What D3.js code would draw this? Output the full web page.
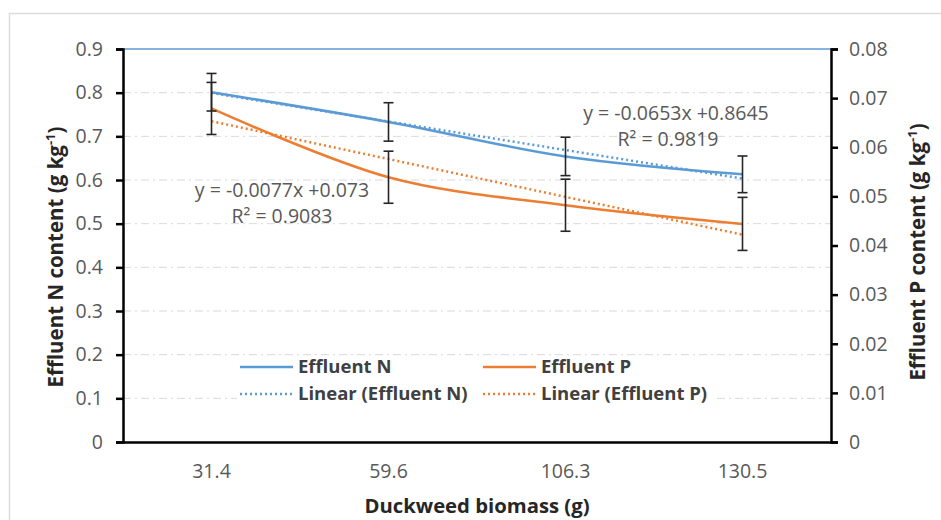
<!DOCTYPE html>
<html>
<head>
<meta charset="utf-8">
<script src="https://cdn.jsdelivr.net/npm/d3@7"></script>
<style>
  body { margin: 0; background: #fff; }
  text { font-family: "Open Sans", "Noto Sans", sans-serif; }
</style>
</head>
<body>
<div id="chart"></div>
<script>
var w = 941;
var h = 520;

// data
var biomass = ["31.4", "59.6", "106.3", "130.5"];
var effluentN = [0.801, 0.733, 0.654, 0.613];
var errN = [0.043, 0.044, 0.044, 0.042];
var effluentP = [0.0679, 0.0539, 0.0482, 0.0444];
var errP = [0.0053, 0.0053, 0.0053, 0.0054];
var trendN = { slope: -0.0653, intercept: 0.8645, label: "y = -0.0653x +0.8645", r2: "R² = 0.9819" };
var trendP = { slope: -0.0077, intercept: 0.073, label: "y = -0.0077x +0.073", r2: "R² = 0.9083" };
var leftTicks = [0, 0.1, 0.2, 0.3, 0.4, 0.5, 0.6, 0.7, 0.8, 0.9];
var rightTicks = [0, 0.01, 0.02, 0.03, 0.04, 0.05, 0.06, 0.07, 0.08];

var blue = "#5b9bd5";
var orange = "#ed7d31";
var tickGray = "#595959";

var margin = { left: 123, right: 110, top: 49, bottom: 78 };
var plotW = w - margin.left - margin.right;
var plotH = h - margin.top - margin.bottom;

var svg = d3.select("#chart").append("svg")
    .attr("width", w)
    .attr("height", h);

// outer frame
svg.append("rect")
    .attr("x", 9.5).attr("y", 13.5)
    .attr("width", w).attr("height", h)
    .attr("fill", "none")
    .attr("stroke", "#dcdcdc")
    .attr("stroke-width", 1.5);

var g = svg.append("g")
    .attr("transform", "translate(" + margin.left + "," + margin.top + ")");

var x = d3.scaleBand().domain(biomass).range([0, plotW]);
var yL = d3.scaleLinear().domain([0, 0.9]).range([plotH, 0]);
var yR = d3.scaleLinear().domain([0, 0.08]).range([plotH, 0]);
var cx = function (i) { return x(biomass[i]) + x.bandwidth() / 2; };

// gridlines (dash-dot)
g.append("g").selectAll("line")
    .data(leftTicks.filter(function (d) { return d > 0 && d < 0.9; }))
    .enter().append("line")
    .attr("x1", 0).attr("x2", plotW)
    .attr("y1", function (d) { return yL(d); })
    .attr("y2", function (d) { return yL(d); })
    .attr("stroke", "#d9d9d9")
    .attr("stroke-width", 1)
    .attr("stroke-dasharray", "8,4,2,4");

// blue top border
g.append("line")
    .attr("x1", 0).attr("x2", plotW)
    .attr("y1", yL(0.9)).attr("y2", yL(0.9))
    .attr("stroke", blue).attr("stroke-width", 1.5);

// axes
var leftAxis = d3.axisLeft(yL).tickValues(leftTicks).tickSize(7).tickPadding(13)
    .tickFormat(function (d) { return d === 0 ? "0" : d3.format(".1f")(d); });
var rightAxis = d3.axisRight(yR).tickValues(rightTicks).tickSize(7).tickPadding(11)
    .tickFormat(function (d) { return d === 0 ? "0" : d3.format(".2f")(d); });
var bottomAxis = d3.axisBottom(x).tickSize(0).tickPadding(22);

function styleAxis(sel) {
    sel.select(".domain").attr("stroke", "#000").attr("stroke-width", 2.5);
    sel.selectAll(".tick line").attr("stroke", "#000").attr("stroke-width", 2.5);
    sel.selectAll(".tick text")
        .attr("fill", tickGray)
        .style("font-size", "19.5px")
        .style("font-family", "'Open Sans', sans-serif");
}

g.append("g").call(leftAxis).call(styleAxis);
g.append("g").attr("transform", "translate(" + plotW + ",0)").call(rightAxis).call(styleAxis);
g.append("g").attr("transform", "translate(0," + plotH + ")").call(bottomAxis).call(styleAxis);

// trendlines (dotted)
function trendPts(t) {
    return [0, 1, 2, 3].map(function (i) { return [i, t.slope * (i + 1) + t.intercept]; });
}
g.append("path")
    .datum(trendPts(trendN))
    .attr("fill", "none").attr("stroke", blue).attr("stroke-width", 2.5)
    .attr("stroke-dasharray", "2,3")
    .attr("d", d3.line().x(function (d) { return cx(d[0]); }).y(function (d) { return yL(d[1]); }));
g.append("path")
    .datum(trendPts(trendP))
    .attr("fill", "none").attr("stroke", orange).attr("stroke-width", 2.5)
    .attr("stroke-dasharray", "2,3")
    .attr("d", d3.line().x(function (d) { return cx(d[0]); }).y(function (d) { return yR(d[1]); }));

// data lines (smoothed)
g.append("path")
    .datum(effluentN)
    .attr("fill", "none").attr("stroke", blue).attr("stroke-width", 2.5)
    .attr("d", d3.line().curve(d3.curveCatmullRom)
        .x(function (d, i) { return cx(i); }).y(function (d) { return yL(d); }));
g.append("path")
    .datum(effluentP)
    .attr("fill", "none").attr("stroke", orange).attr("stroke-width", 2.5)
    .attr("d", d3.line().curve(d3.curveCatmullRom)
        .x(function (d, i) { return cx(i); }).y(function (d) { return yR(d); }));

// error bars
function errorBars(vals, errs, scale) {
    var eb = g.append("g").selectAll("g").data(vals).enter().append("g")
        .attr("stroke", "#262626").attr("stroke-width", 1.6);
    eb.append("line")
        .attr("x1", function (d, i) { return cx(i); }).attr("x2", function (d, i) { return cx(i); })
        .attr("y1", function (d, i) { return scale(d + errs[i]); })
        .attr("y2", function (d, i) { return scale(d - errs[i]); });
    [1, -1].forEach(function (s) {
        eb.append("line")
            .attr("x1", function (d, i) { return cx(i) - 5; }).attr("x2", function (d, i) { return cx(i) + 5; })
            .attr("y1", function (d, i) { return scale(d + s * errs[i]); })
            .attr("y2", function (d, i) { return scale(d + s * errs[i]); });
    });
}
errorBars(effluentN, errN, yL);
errorBars(effluentP, errP, yR);

// equations
function eq(t, ex, ey, r2dx) {
    var txt = g.append("text")
        .attr("fill", tickGray)
        .style("font-size", "19.5px")
        .attr("text-anchor", "middle");
    txt.append("tspan").attr("x", ex).attr("y", ey).text(t.label);
    txt.append("tspan").attr("x", ex + r2dx).attr("y", ey + 26).text(t.r2);
}
eq(trendP, 282 - margin.left, 197 - margin.top, 0);
eq(trendN, 676 - margin.left, 120 - margin.top, -8);

// legend
var legend = g.append("g").attr("transform", "translate(" + (237 - margin.left) + "," + (356 - margin.top) + ")");
legend.append("rect").attr("width", 480).attr("height", 48).attr("fill", "#fff");
var legendItems = [
    { name: "Effluent N", color: blue, dash: null, col: 0, row: 0 },
    { name: "Effluent P", color: orange, dash: null, col: 1, row: 0 },
    { name: "Linear (Effluent N)", color: blue, dash: "2,3", col: 0, row: 1 },
    { name: "Linear (Effluent P)", color: orange, dash: "2,3", col: 1, row: 1 }
];
var li = legend.selectAll(".li").data(legendItems).enter().append("g")
    .attr("class", "li")
    .attr("transform", function (d) { return "translate(" + (3 + d.col * 243) + "," + (11 + d.row * 27) + ")"; });
li.append("line")
    .attr("x1", 0).attr("x2", 53).attr("y1", 0).attr("y2", 0)
    .attr("stroke", function (d) { return d.color; })
    .attr("stroke-width", 2.5)
    .attr("stroke-dasharray", function (d) { return d.dash; });
li.append("text")
    .attr("x", 58).attr("y", 6)
    .attr("fill", "#404040")
    .style("font-size", "18.5px")
    .style("font-weight", "bold")
    .text(function (d) { return d.name; });

// axis titles
function yTitle(tx, ty, label) {
    var t = svg.append("text")
        .attr("transform", "translate(" + tx + "," + ty + ") rotate(-90)")
        .attr("text-anchor", "middle")
        .attr("fill", "#262626")
        .style("font-size", "20.5px")
        .style("font-weight", "bold");
    t.append("tspan").text(label);
    t.append("tspan").attr("dy", -8).style("font-size", "13px").text("-1");
    t.append("tspan").attr("dy", 8).text(")");
}
yTitle(63, 257, "Effluent N content (g kg");
yTitle(925, 252, "Effluent P content (g kg");

svg.append("text")
    .attr("x", 477).attr("y", 513)
    .attr("text-anchor", "middle")
    .attr("fill", "#262626")
    .style("font-size", "20.3px")
    .style("font-weight", "bold")
    .text("Duckweed biomass (g)");
</script>
</body>
</html>
